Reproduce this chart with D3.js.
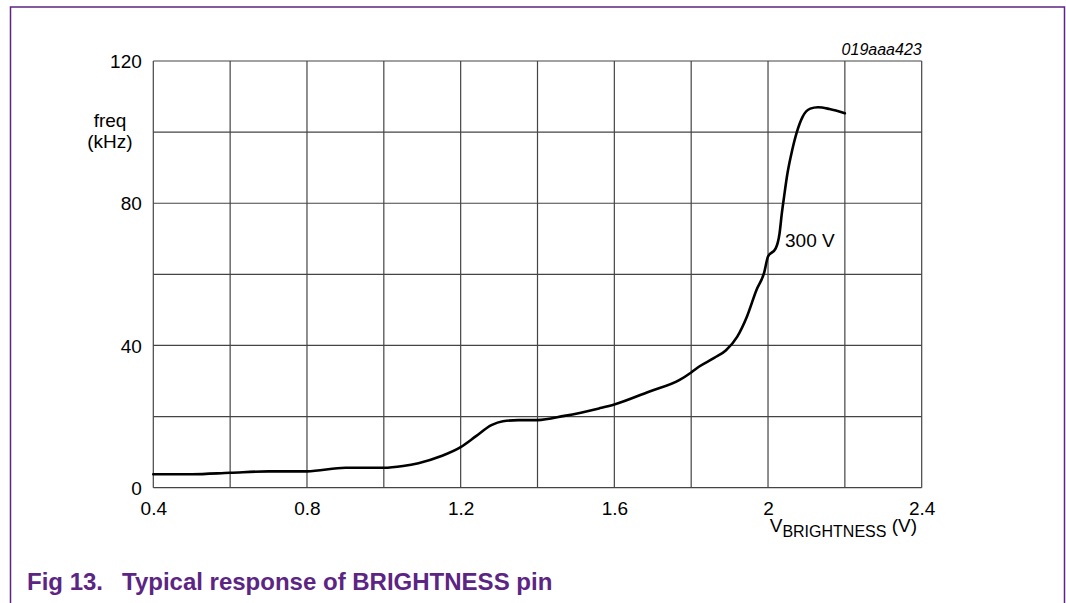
<!DOCTYPE html>
<html><head><meta charset="utf-8">
<script src="https://cdn.jsdelivr.net/npm/d3@7/dist/d3.min.js"></script>
<style>body{margin:0;background:#fff;} svg{display:block;font-family:"Liberation Sans",Arial,sans-serif;}</style>
</head><body>
<svg id="c" width="1066" height="603"></svg>
<script>
const voltage = [0.40,0.50,0.60,0.70,0.80,0.90,1.00,1.05,1.09,1.15,1.20,1.24,1.28,1.31,1.35,1.40,1.47,1.56,1.60,1.69,1.77,1.80,1.82,1.86,1.89,1.92,1.945,1.97,1.99,2.00,2.02,2.03,2.036,2.042,2.05,2.06,2.075,2.09,2.11,2.13,2.16,2.20];
const freq    = [3.8, 3.8, 4.2, 4.6, 4.6, 5.6, 5.6, 6.1, 6.9, 8.9, 11.4,14.5,17.6,18.7,19.0,19.0,20.2,22.3,23.4,27.0,30.3,32.4,34.0,36.5,38.6,42.5,48.1,55.6,60.5,65.0,67.3,71.5,77.2,82.0,88.0,93.5,100.0,104.3,106.6,107.0,106.5,105.3];
const xTicks = [0.4,0.8,1.2,1.6,2.0,2.4];
const xGrid = [0.4,0.6,0.8,1.0,1.2,1.4,1.6,1.8,2.0,2.2,2.4];
const yTicks = [0,40,80,120];
const yGrid = [0,20,40,60,80,100,120];

const svg = d3.select("#c");
const purple = "#5c2483";
const FF = "Liberation Sans, Arial, sans-serif";
// frame
svg.append("path").attr("d","M10.5,603 V7 H1064.5 V603").attr("fill","none").attr("stroke",purple).attr("stroke-width",1.5);

const x = d3.scaleLinear().domain([0.4,2.4]).range([153.3,921.7]);
const y = d3.scaleLinear().domain([0,120]).range([487.7,61]);

const g = svg.append("g");
g.selectAll("line.v").data(xGrid).enter().append("line")
 .attr("x1",d=>x(d)).attr("x2",d=>x(d)).attr("y1",y(0)).attr("y2",y(120))
 .attr("stroke","#444").attr("stroke-width",1.2);
g.selectAll("line.h").data(yGrid).enter().append("line")
 .attr("x1",x(0.4)).attr("x2",x(2.4)).attr("y1",d=>y(d)).attr("y2",d=>y(d))
 .attr("stroke","#444").attr("stroke-width",1.2);

const xAxis = svg.append("g").attr("transform",`translate(0,${y(0)})`)
 .call(d3.axisBottom(x).tickValues(xTicks).tickSize(0).tickPadding(0).tickFormat(d=>String(+d.toFixed(1))));
xAxis.attr("font-size",null).attr("font-family",null);
xAxis.select(".domain").remove();
xAxis.selectAll("text").attr("y",27).attr("dy",null).attr("font-size",19).attr("fill","#000").attr("font-family",FF);

const yAxis = svg.append("g").attr("transform",`translate(${x(0.4)},0)`)
 .call(d3.axisLeft(y).tickValues(yTicks).tickSize(0).tickPadding(11.5));
yAxis.attr("font-size",null).attr("font-family",null);
yAxis.select(".domain").remove();
yAxis.selectAll("text").attr("dy","0.35em").attr("font-size",19).attr("fill","#000").attr("font-family",FF);

const line = d3.line().x((d,i)=>x(voltage[i])).y((d,i)=>y(freq[i])).curve(d3.curveMonotoneX);
svg.append("path").datum(freq).attr("d",line).attr("fill","none").attr("stroke","#000").attr("stroke-width",2.6).attr("stroke-linejoin","round").attr("stroke-linecap","round");

svg.append("text").attr("x",110).attr("y",127).attr("text-anchor","middle").attr("font-size",19).text("freq");
svg.append("text").attr("x",110).attr("y",148).attr("text-anchor","middle").attr("font-size",19).text("(kHz)");
svg.append("text").attr("x",921.7).attr("y",55).attr("text-anchor","end").attr("font-size",16).attr("font-style","italic").text("019aaa423");
svg.append("text").attr("x",785).attr("y",247).attr("font-size",19).text("300 V");
const xl = svg.append("text").attr("x",917).attr("y",532).attr("text-anchor","end").attr("font-size",19);
xl.append("tspan").text("V");
xl.append("tspan").attr("font-size",16).attr("dy",4.5).text("BRIGHTNESS");
xl.append("tspan").attr("dy",-4.5).text(" (V)");
svg.append("text").attr("x",27).attr("y",590).attr("font-size",24).attr("font-weight","bold").attr("fill",purple).text("Fig 13.");
svg.append("text").attr("x",122).attr("y",590).attr("font-size",24).attr("font-weight","bold").attr("fill",purple).text("Typical response of BRIGHTNESS pin");
</script>
</body></html>
